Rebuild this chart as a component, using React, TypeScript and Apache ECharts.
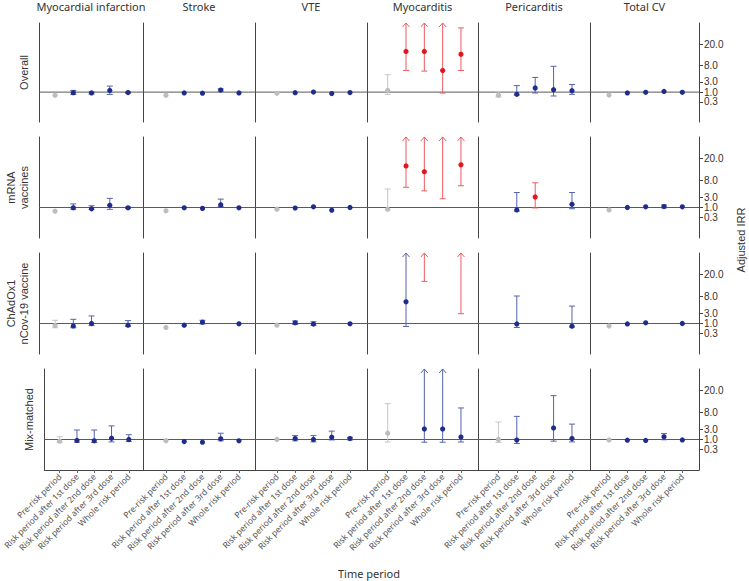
import React, { useEffect, useRef } from "react";
import * as echarts from "echarts";

const outcomes = ["Myocardial infarction", "Stroke", "VTE", "Myocarditis", "Pericarditis", "Total CV"];
const vaccineGroups = ["Overall", "mRNA\nvaccines", "ChAdOx1\nnCov-19 vaccine", "Mix-matched"];
const periods = [
  "Pre-risk period",
  "Risk period after 1st dose",
  "Risk period after 2nd dose",
  "Risk period after 3rd dose",
  "Whole risk period",
];
const tickValues = [0.3, 1, 3, 8, 20];
const tickLabels = ["0.3", "1.0", "3.0", "8.0", "20.0"];
const INF = Infinity;

// rows = outcomes, columns = periods
const overallIRR = [
  [0.67, 0.93, 0.9, 1.2, 0.95],
  [0.67, 0.9, 0.88, 1.25, 0.9],
  [0.86, 0.93, 1.0, 0.83, 0.95],
  [1.2, 14.6, 14.6, 5.9, 12.9],
  [0.67, 0.76, 1.55, 1.3, 1.17],
  [0.7, 0.9, 0.97, 1.08, 0.97],
];
const overallLower = [
  [null, 0.75, 0.8, 0.75, 0.88],
  [null, null, null, 1.1, null],
  [null, null, null, null, null],
  [0.76, 5.9, 5.7, 0.89, 5.9],
  [0.55, 0.7, 0.9, 0.62, 0.76],
  [null, null, null, null, null],
];
const overallUpper = [
  [null, 1.2, 1.0, 1.9, 1.02],
  [null, null, null, 1.4, null],
  [null, null, null, null, null],
  [4.6, INF, INF, INF, 40],
  [1.05, 2.0, 3.9, 7.6, 2.25],
  [null, null, null, null, null],
];

const mrnaIRR = [
  [0.64, 0.96, 0.86, 1.25, 0.96],
  [0.67, 0.97, 0.9, 1.33, 0.97],
  [0.82, 0.93, 1.07, 0.72, 1.0],
  [0.82, 14.6, 11.5, null, 15.3],
  [null, 0.75, 3.0, null, 1.4],
  [0.75, 1.0, 1.07, 1.1, 1.07],
];
const mrnaLower = [
  [null, 0.8, 0.8, 0.8, 0.88],
  [null, null, null, 1.1, null],
  [null, null, null, null, null],
  [0.75, 5.3, 4.3, 2.5, 5.8],
  [null, 0.65, 0.95, null, 0.86],
  [null, null, null, 0.95, null],
];
const mrnaUpper = [
  [null, 1.45, 1.2, 2.6, 1.05],
  [null, null, null, 2.4, null],
  [null, null, null, null, null],
  [4.8, INF, INF, INF, INF],
  [null, 3.9, 6.9, null, 3.9],
  [null, null, null, 1.3, null],
];

const chadoxIRR = [
  [0.79, 0.75, 1.0, null, 0.82],
  [0.62, 0.82, 1.15, null, 0.96],
  [0.82, 1.07, 0.93, null, 0.97],
  [null, 5.8, null, null, null],
  [null, 0.95, null, null, 0.72],
  [0.74, 0.95, 1.07, null, 1.0],
];
const chadoxLower = [
  [0.6, 0.6, 0.78, null, 0.7],
  [null, null, 0.95, null, null],
  [null, 0.9, 0.8, null, null],
  [null, 0.7, 15, null, 2.8],
  [null, 0.62, null, null, 0.65],
  [null, null, null, null, null],
];
const chadoxUpper = [
  [1.4, 1.55, 2.2, null, 1.35],
  [null, null, 1.4, null, null],
  [null, 1.3, 1.2, null, null],
  [null, INF, INF, null, INF],
  [null, 8.1, null, null, 4.5],
  [null, null, null, null, null],
];

const mixIRR = [
  [0.82, 0.89, 0.86, 1.15, 1.0],
  [0.87, 0.78, 0.72, 1.07, 0.86],
  [1.0, 1.1, 1.0, 1.25, 1.1],
  [1.93, null, 3.0, 3.0, 1.29],
  [1.0, 0.93, null, 3.2, 1.1],
  [0.95, 0.92, 0.89, 1.33, 0.95],
];
const mixLower = [
  [0.7, 0.72, 0.7, 0.75, 0.78],
  [null, null, null, 0.85, null],
  [null, 0.85, 0.75, 0.95, 0.95],
  [0.74, null, 0.72, 0.72, 0.74],
  [0.7, 0.62, null, 0.82, 0.75],
  [null, null, null, 0.97, null],
];
const mixUpper = [
  [1.33, 2.7, 2.7, 3.6, 1.65],
  [null, null, null, 1.93, null],
  [null, 1.5, 1.5, 2.4, 1.25],
  [11.5, null, INF, INF, 9.6],
  [4.5, 6.3, null, 16.1, 4.0],
  [null, null, null, 1.85, null],
];

// [group, outcome, period] highlighted in red
const redCells = [
  [0, 3, 1], [0, 3, 2], [0, 3, 3], [0, 3, 4],
  [1, 3, 1], [1, 3, 2], [1, 3, 3], [1, 3, 4], [1, 4, 2],
  [2, 3, 2], [2, 3, 4],
];

const groupIRR = [overallIRR, mrnaIRR, chadoxIRR, mixIRR];
const groupLower = [overallLower, mrnaLower, chadoxLower, mixLower];
const groupUpper = [overallUpper, mrnaUpper, chadoxUpper, mixUpper];

// Axis scale: compressed log scale defined by tick knots
const knotLog = tickValues.map((v) => Math.log10(v));
const knotPos = [-10, 0, 10.5, 27.2, 49];
function scale(v: number): number {
  const l = Math.log10(v);
  const n = knotLog.length;
  let i = 0;
  if (l <= knotLog[0]) i = 0;
  else if (l >= knotLog[n - 1]) i = n - 2;
  else {
    while (i < n - 2 && l > knotLog[i + 1]) i++;
  }
  return knotPos[i] + ((l - knotLog[i]) * (knotPos[i + 1] - knotPos[i])) / (knotLog[i + 1] - knotLog[i]);
}
const Y_MIN = -30.5;
const Y_MAX = 70.5;

// layout
const colEdges = [39, 143, 255, 367, 478, 590, 699];
const padLeft = [0.88, 1.26, 1.2, 1.13, 1.11, 1.04];
const padRight = [0.82, 0.88, 0.93, 0.93, 0.98, 0.91];
const rowTops = [21, 137, 253, 369];
const rowHeight = 101;

const COLORS: Record<string, { pt: string; bar: string }> = {
  grey: { pt: "#bdbdbd", bar: "#c6c6c6" },
  blue: { pt: "#1f2c8c", bar: "#5562ad" },
  red: { pt: "#e0171f", bar: "#ec5b60" },
};

function buildOption() {
  const grid: any[] = [];
  const xAxis: any[] = [];
  const yAxis: any[] = [];
  const series: any[] = [];
  const tickPos = tickValues.map(scale);

  for (let r = 0; r < 4; r++) {
    for (let c = 0; c < 6; c++) {
      const idx = r * 6 + c;
      const xmin = -padLeft[c];
      const xmax = 4 + padRight[c];
      grid.push({
        left: colEdges[c],
        width: colEdges[c + 1] - colEdges[c],
        top: rowTops[r],
        height: rowHeight,
      });
      xAxis.push({
        type: "value",
        gridIndex: idx,
        min: xmin,
        max: xmax,
        position: r === 0 ? "top" : "bottom",
        axisLine: { show: r === 3, onZero: false, lineStyle: { color: "#444", width: 1 } },
        axisTick: { show: r === 3, customValues: [0, 1, 2, 3, 4], length: 3, lineStyle: { color: "#666" } },
        axisLabel: {
          show: r === 3,
          customValues: [0, 1, 2, 3, 4],
          rotate: 45,
          margin: 5,
          fontSize: 8.5,
          color: "#555",
          fontFamily: "Noto Sans",
          hideOverlap: false,
          formatter: (v: number) => periods[Math.round(v)] || "",
        },
        splitLine: { show: false },
        name: r === 0 ? outcomes[c] : "",
        nameLocation: "middle",
        nameGap: 11,
        nameTextStyle: { fontSize: 11, color: "#333", fontFamily: "Noto Sans" },
      });
      const leftIdx = yAxis.length;
      yAxis.push({
        type: "value",
        gridIndex: idx,
        min: Y_MIN,
        max: Y_MAX,
        position: "left",
        axisLine: { show: true, onZero: false, lineStyle: { color: "#444", width: 1 } },
        axisTick: { show: false },
        axisLabel: { show: false },
        splitLine: { show: false },
        name: c === 0 ? vaccineGroups[r] : "",
        nameLocation: "middle",
        nameGap: 9,
        nameRotate: 90,
        nameTextStyle: { fontSize: 11, color: "#333", fontFamily: "Liberation Sans", lineHeight: 13 },
      });
      if (c === 5) {
        // one right axis per tick so that the closely spaced labels are all kept
        tickPos.forEach((tp, k) => {
          yAxis.push({
            type: "value",
            gridIndex: idx,
            min: Y_MIN,
            max: Y_MAX,
            position: "right",
            offset: 0,
            axisLine: { show: k === 0, onZero: false, lineStyle: { color: "#444", width: 1 } },
            axisTick: { show: true, customValues: [tp], length: 4, lineStyle: { color: "#444" } },
            axisLabel: {
              show: true,
              customValues: [tp],
              margin: 5,
              fontSize: 10,
              lineHeight: 9,
              color: "#333",
              fontFamily: "Liberation Sans",
              hideOverlap: false,
              formatter: () => tickLabels[k],
            },
            splitLine: { show: false },
          });
        });
      }

      // reference line at IRR = 1
      series.push({
        type: "line",
        xAxisIndex: idx,
        yAxisIndex: leftIdx,
        data: [
          [xmin, scale(1)],
          [xmax, scale(1)],
        ],
        symbol: "none",
        lineStyle: { color: "#5a5a5a", width: 1 },
        silent: true,
        z: 1,
      });

      const est = groupIRR[r][c];
      const lo = groupLower[r][c];
      const hi = groupUpper[r][c];
      const items: any[] = [];
      for (let p = 0; p < 5; p++) {
        if (est[p] == null && lo[p] == null) continue;
        const isRed = redCells.some((rc) => rc[0] === r && rc[1] === c && rc[2] === p);
        const color = p === 0 ? "grey" : isRed ? "red" : "blue";
        items.push({ x: p, est: est[p], lo: lo[p], hi: hi[p], color });
      }
      series.push({
        type: "custom",
        xAxisIndex: idx,
        yAxisIndex: leftIdx,
        clip: false,
        z: 3,
        data: items.map((it) => [it.x, it.est != null ? Math.min(scale(it.est), Y_MAX) : scale(it.lo)]),
        renderItem: (params: any, api: any) => {
          const it = items[params.dataIndex];
          const cs = params.coordSys;
          const top = cs.y;
          const cx = api.coord([it.x, 0])[0];
          const col = COLORS[it.color];
          const children: any[] = [];
          const cap = 3;
          if (it.lo != null && it.hi != null) {
            const yLo = api.coord([it.x, scale(it.lo)])[1];
            const arrow = !isFinite(it.hi) || scale(it.hi) > Y_MAX;
            const yHi = arrow ? top : api.coord([it.x, scale(it.hi)])[1];
            const st = { stroke: col.bar, lineWidth: 1, fill: "none" };
            children.push({ type: "line", shape: { x1: cx, y1: yLo, x2: cx, y2: yHi }, style: st });
            children.push({ type: "line", shape: { x1: cx - cap, y1: yLo, x2: cx + cap, y2: yLo }, style: st });
            if (arrow) {
              children.push({
                type: "polyline",
                shape: { points: [[cx - 3.5, top + 4], [cx, top], [cx + 3.5, top + 4]] },
                style: st,
              });
            } else {
              children.push({ type: "line", shape: { x1: cx - cap, y1: yHi, x2: cx + cap, y2: yHi }, style: st });
            }
          }
          if (it.est != null && scale(it.est) <= Y_MAX) {
            const cy = api.coord([it.x, scale(it.est)])[1];
            children.push({ type: "circle", shape: { cx, cy, r: 2.6 }, style: { fill: col.pt } });
          }
          return { type: "group", children };
        },
      });
    }
  }

  return {
    animation: false,
    backgroundColor: "#ffffff",
    grid,
    xAxis,
    yAxis,
    series,
    graphic: [
      {
        type: "text",
        x: 369,
        y: 573,
        style: {
          text: "Time period",
          fontSize: 11,
          fill: "#333",
          fontFamily: "Noto Sans",
          textAlign: "center",
          textVerticalAlign: "middle",
        },
      },
      {
        type: "text",
        x: 741,
        y: 240,
        rotation: Math.PI / 2,
        style: {
          text: "Adjusted IRR",
          fontSize: 11,
          fill: "#333",
          fontFamily: "Liberation Sans",
          textAlign: "center",
          textVerticalAlign: "middle",
        },
      },
    ],
  };
}

export default function App() {
  const ref = useRef<HTMLDivElement>(null);
  useEffect(() => {
    if (!ref.current) return;
    const chart = echarts.init(ref.current, undefined, { renderer: "svg" });
    chart.setOption(buildOption() as any);
    return () => chart.dispose();
  }, []);
  return (
    <div
      ref={ref}
      style={{ position: "fixed", left: 0, top: 0, width: 749, height: 581, background: "#fff" }}
    />
  );
}
